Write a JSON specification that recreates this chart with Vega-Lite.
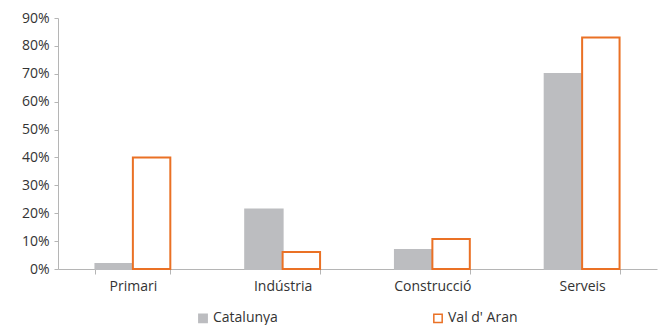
{
  "$schema": "https://vega.github.io/schema/vega-lite/v6.json",
  "width": 599,
  "height": 251,
  "autosize": "none",
  "padding": {"left": 58, "top": 18, "right": 8, "bottom": 56},
  "background": "white",
  "config": {
    "view": {"stroke": null},
    "font": "Open Sans",
    "axis": {"labelFont": "Open Sans", "labelFontSize": 14, "labelColor": "#333333", "domainColor": "#b5b5b5", "tickColor": "#b5b5b5", "grid": false, "title": null}
  },
  "data": {
    "values": [
      {"sector": "Primari", "serie": "Catalunya", "valor": 0.018},
      {"sector": "Primari", "serie": "Val d' Aran", "valor": 0.40},
      {"sector": "Indústria", "serie": "Catalunya", "valor": 0.213},
      {"sector": "Indústria", "serie": "Val d' Aran", "valor": 0.061},
      {"sector": "Construcció", "serie": "Catalunya", "valor": 0.068},
      {"sector": "Construcció", "serie": "Val d' Aran", "valor": 0.108},
      {"sector": "Serveis", "serie": "Catalunya", "valor": 0.699},
      {"sector": "Serveis", "serie": "Val d' Aran", "valor": 0.83}
    ]
  },
  "mark": {"type": "bar", "strokeWidth": 2},
  "encoding": {
    "x": {
      "field": "sector", "type": "nominal", "sort": ["Primari", "Indústria", "Construcció", "Serveis"],
      "scale": {"paddingInner": 0.5, "paddingOuter": 0.25},
      "axis": {"labelAngle": 0, "tickBand": "extent", "tickSize": 5, "labelPadding": 5, "domainWidth": 1}
    },
    "xOffset": {"field": "serie", "type": "nominal", "scale": {"paddingInner": 0, "paddingOuter": 0}},
    "y": {
      "field": "valor", "type": "quantitative",
      "scale": {"domain": [0, 0.9], "nice": false},
      "axis": {"format": ".0%", "values": [0, 0.1, 0.2, 0.3, 0.4, 0.5, 0.6, 0.7, 0.8, 0.9], "tickSize": 4, "labelPadding": 5}
    },
    "fill": {
      "field": "serie", "type": "nominal",
      "scale": {"domain": ["Catalunya", "Val d' Aran"], "range": ["#bcbdc0", "#ffffff"]},
      "legend": {"orient": "none", "legendX": 138, "legendY": 293, "title": null, "direction": "horizontal", "columns": 2, "columnPadding": 152, "symbolType": "square", "symbolSize": 70, "symbolStrokeWidth": 1.5, "labelFontSize": 14, "labelColor": "#333333", "labelFont": "Open Sans", "labelOffset": 3}
    },
    "stroke": {
      "field": "serie", "type": "nominal",
      "scale": {"domain": ["Catalunya", "Val d' Aran"], "range": ["#bcbdc0", "#ea7125"]},
      "legend": {"orient": "none", "legendX": 138, "legendY": 293, "title": null, "direction": "horizontal", "columns": 2, "columnPadding": 152, "symbolType": "square", "symbolSize": 70, "symbolStrokeWidth": 1.5, "labelFontSize": 14, "labelColor": "#333333", "labelFont": "Open Sans", "labelOffset": 3}
    }
  }
}
